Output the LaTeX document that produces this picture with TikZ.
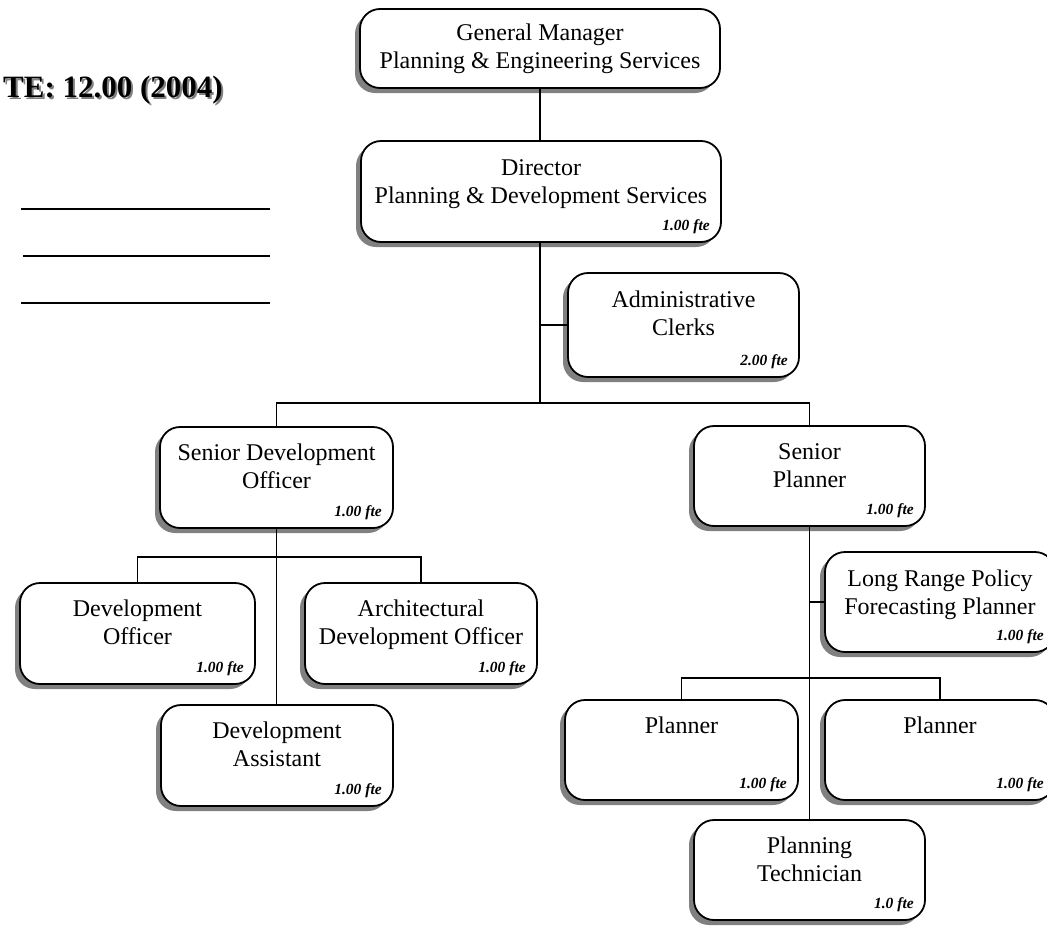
\documentclass[tikz,border=0pt]{standalone}
\usepackage{fontspec}
\setmainfont{Liberation Serif}
\usetikzlibrary{shadows}
\tikzset{
  box/.style={draw=black, line width=1.8pt, fill=white, rounded corners=20pt,
    inner sep=0pt,
    drop shadow={shadow xshift=-5pt, shadow yshift=-5pt, fill=black!50, opacity=1}},
  conn/.style={draw=black, line width=1.8pt},
  rule/.style={draw=black, line width=2pt},
  maintext/.style={anchor=north, align=center, inner sep=0pt,
    font=\fontsize{24}{28}\selectfont},
  fte/.style={anchor=base east, inner sep=0pt,
    font=\fontsize{15.5}{18}\selectfont\bfseries\itshape},
  title/.style={anchor=base west, inner sep=0pt,
    font=\fontsize{31}{36}\selectfont\bfseries}
}
\newcommand\orgbox[8]{%
  % #1 name, #2 cx, #3 cy, #4 width, #5 height, #6 text, #7 fte, #8 text drop
  \node[box, minimum width=#4pt, minimum height=#5pt] (#1) at (#2,#3) {};
  \node[maintext] (#1-t) at ([yshift=-#8pt]#1.north) {#6};
  \node[fte] (#1-f) at ([xshift=-12pt, yshift=12pt]#1.south east) {#7};
}
\begin{document}
\begin{tikzpicture}[x=1pt,y=-1pt]
\clip (0,0) rectangle (1047,940);
\fill[white] (0,0) rectangle (1047,940);

% title with shadow
\node[title, text=black!50] (titleshadow) at (5,99) {TE: 12.00 (2004)};
\node[title] (titletext) at (3,97) {TE: 12.00 (2004)};

% blank rules
\draw[rule] (21,209) -- (270,209);
\draw[rule] (23,256) -- (270,256);
\draw[rule] (21,303) -- (270,303);

% boxes
\node[box, minimum width=360pt, minimum height=79pt] (gm) at (540,48.5) {};
\node[align=center, inner sep=0pt, font=\fontsize{24}{28}\selectfont] (gm-t) at (gm.center)
  {General Manager\\Planning \& Engineering Services};

\orgbox{dir}{541}{191.5}{360}{101}{Director\\Planning \& Development Services}{1.00 fte}{19}
\orgbox{adm}{683.5}{325}{231}{104}{Administrative\\Clerks}{2.00 fte}{19}
\orgbox{sdo}{276.5}{477.5}{233}{101}{Senior Development\\Officer}{1.00 fte}{18}
\orgbox{sp}{809.5}{476}{231}{100}{Senior\\Planner}{1.00 fte}{18}
\orgbox{do}{137.5}{633.5}{235}{101}{Development\\Officer}{1.00 fte}{18}
\orgbox{ado}{421}{633.5}{232}{101}{Architectural\\Development Officer}{1.00 fte}{18}
\orgbox{da}{277}{755.5}{232}{101}{Development\\Assistant}{1.00 fte}{18}
\orgbox{lrp}{940}{602}{230}{100}{Long Range Policy\\Forecasting Planner}{1.00 fte}{19}
\orgbox{pa}{681.5}{750}{233}{100}{Planner}{1.00 fte}{18}
\orgbox{pb}{940}{750}{230}{100}{Planner}{1.00 fte}{18}
\orgbox{pt}{809.5}{870}{231}{100}{Planning\\Technician}{1.0 fte}{18}

% connectors
\coordinate (bus1) at (540,403);
\coordinate (bus2) at (277,557);
\coordinate (bus3) at (809,678);
\draw[conn] (gm.south) -- (gm.south |- dir.north);
\draw[conn] (gm.south |- dir.south) -- (bus1);
\draw[conn] (bus1 |- adm.west) -- (adm.west);
\draw[conn] (sdo.north) |- (bus1) -| (sp.north);
\draw[conn] (sdo.south) -- (sdo.south |- da.north);
\draw[conn] (do.north) |- (bus2) -| (ado.north);
\draw[conn] (sp.south) -- (sp.south |- pt.north);
\draw[conn] (sp.south |- lrp.west) -- (lrp.west);
\draw[conn] (pa.north) |- (bus3) -| (pb.north);
\end{tikzpicture}
\end{document}
